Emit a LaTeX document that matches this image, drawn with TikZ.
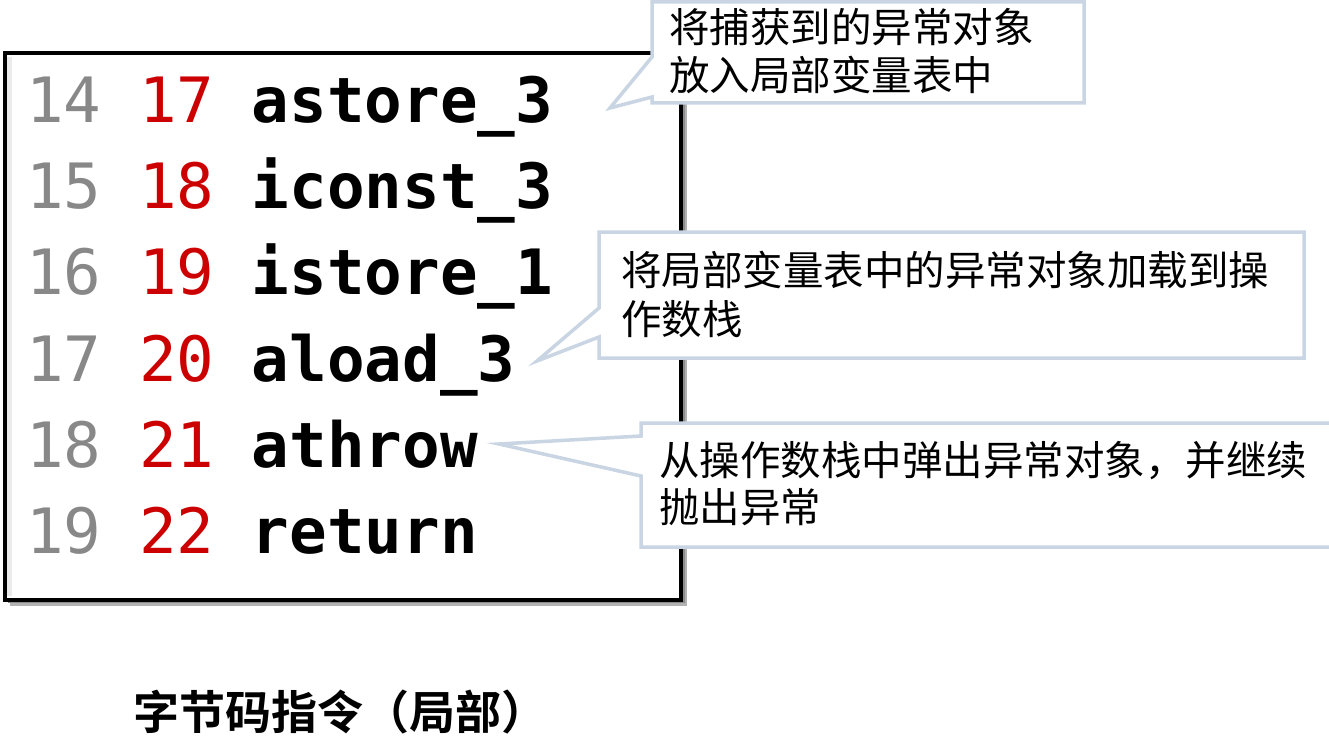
\documentclass[tikz,border=0pt]{standalone}
\usepackage{fontspec}
\newfontfamily\cjk{Noto Sans CJK SC}[BoldFont={Noto Sans CJK SC Bold}]
\newfontfamily\codefont{DejaVu Sans Mono}
\definecolor{cbord}{RGB}{201,213,227}
\definecolor{lnum}{RGB}{136,136,136}
\definecolor{offc}{RGB}{204,0,0}
\begin{document}
\begin{tikzpicture}[x=1pt,y=-1pt,
  codebox/.style={draw=black, line width=4pt, fill=white, inner sep=0pt},
  codeline/.style={anchor=base west, inner sep=0pt, font=\codefont\fontsize{62.5}{70}\selectfont},
  callout/.style={draw=cbord, fill=white, line width=3.5pt, line join=miter},
  ctext/.style={anchor=base west, inner sep=0pt, font=\cjk\fontsize{40.5}{48}\selectfont},
  caption/.style={anchor=base west, inner sep=0pt, font=\cjk\bfseries\fontsize{46}{52}\selectfont}]
\clip (0,0) rectangle (1329,749);
\fill[white] (0,0) rectangle (1329,749);
% code box with shadow
\fill[black!30] (10,59) rectangle (687,606);
\fill[black!45] (8,56) rectangle (685,603);
\node[codebox, minimum width=676pt, minimum height=547pt] (code) at (343,326.5) {};
\draw[line width=5pt, black!8] (9.5,57) -- (9.5,596);
\node[codeline] (l1) at (26,122) {\color{lnum}14 \color{offc}17 \textbf{\color{black}astore\_3}};
\node[codeline] (l2) at (26,208) {\color{lnum}15 \color{offc}18 \textbf{\color{black}iconst\_3}};
\node[codeline] (l3) at (26,294.5) {\color{lnum}16 \color{offc}19 \textbf{\color{black}istore\_1}};
\node[codeline] (l4) at (26,381) {\color{lnum}17 \color{offc}20 \textbf{\color{black}aload\_3}};
\node[codeline] (l5) at (26,467) {\color{lnum}18 \color{offc}21 \textbf{\color{black}athrow}};
\node[codeline] (l6) at (26,553) {\color{lnum}19 \color{offc}22 \textbf{\color{black}return}};
% callouts
\draw[callout] (652,2) -- (1084,2) -- (1084,103) -- (652,103) -- (652,97) -- (610,108) -- (652,57) -- cycle;
\draw[callout] (599,232) -- (1304,232) -- (1304,358) -- (599,358) -- (599,337) -- (537,361) -- (599,308) -- cycle;
\draw[callout] (641,423) -- (1345,423) -- (1345,547) -- (641,547) -- (641,476) -- (499,444) -- (641,436) -- cycle;
\node[ctext] (c1a) at (669,43) {将捕获到的异常对象};
\node[ctext] (c1b) at (669,90.5) {放入局部变量表中};
\node[ctext] (c2a) at (621,285) {将局部变量表中的异常对象加载到操};
\node[ctext] (c2b) at (621,334) {作数栈};
\node[ctext] (c3a) at (659,475) {从操作数栈中弹出异常对象，并继续};
\node[ctext] (c3b) at (659,522) {抛出异常};
% caption
\node[caption] (cap) at (133,729.5) {字节码指令（局部）};
\end{tikzpicture}
\end{document}
